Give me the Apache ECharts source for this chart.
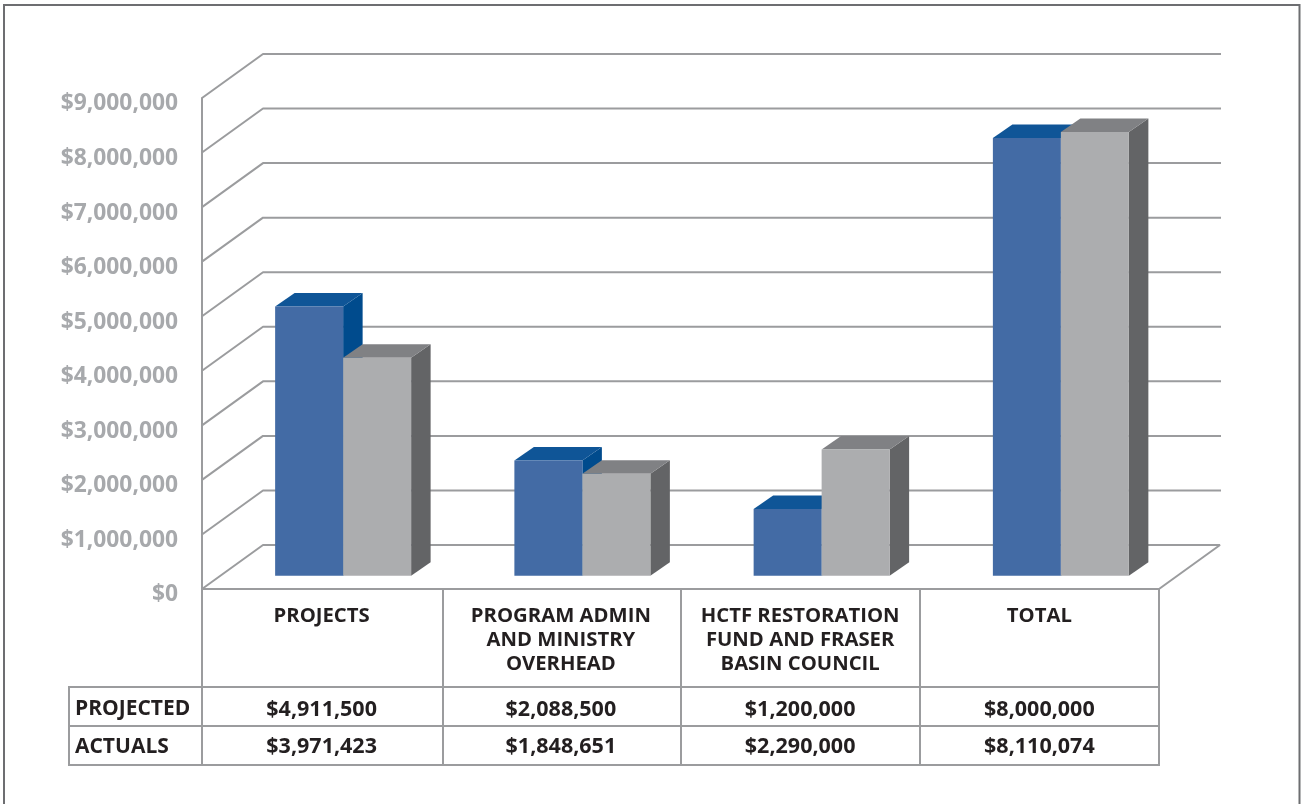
<!DOCTYPE html>
<html>
<head>
<meta charset="utf-8">
<style>html,body{margin:0;padding:0;background:#fff}#chart{width:1301px;height:804px}</style>
<script src="https://cdn.jsdelivr.net/npm/echarts@6/dist/echarts.min.js"></script>
</head>
<body>
<div id="chart"></div>
<script>
// Budget figures by program area
const categories = ['PROJECTS', 'PROGRAM ADMIN\nAND MINISTRY\nOVERHEAD', 'HCTF RESTORATION\nFUND AND FRASER\nBASIN COUNCIL', 'TOTAL'];
const projected = [4911500, 2088500, 1200000, 8000000];
const actuals = [3971423, 1848651, 2290000, 8110074];
const yTicks = [0, 1000000, 2000000, 3000000, 4000000, 5000000, 6000000, 7000000, 8000000, 9000000];
const rowNames = ['PROJECTED', 'ACTUALS'];

const FONT = '"Open Sans", "Noto Sans", sans-serif';
const LINE = '#9b9c9e';
const INK = '#231f20';
const money = v => '$' + v.toLocaleString('en-US');

// Oblique projection: how far the wall recedes, and where the bars stand within it
const WALL_DX = 61, WALL_DY = -44;
const BAR_DX = 19.5, BAR_DY = -13.5;
const BAR_SHIFT_X = 21.5, BASE_SHIFT_Y = -13.3, TOP_SHIFT_Y = -14.5;
const BAR_W_RATIO = 0.2842;

function poly(points, fill) {
  return { type: 'polygon', shape: { points }, style: { fill } };
}

// One extruded bar: front, top and side faces
function barRenderer(side, colors) {
  return function (params, api) {
    const i = api.value(0);
    const top = api.coord([i, api.value(1)]);
    const base = api.coord([i, 0]);
    const w = api.size([1, 0])[0] * BAR_W_RATIO;
    const x0 = top[0] + BAR_SHIFT_X + (side === 0 ? -w : 0);
    const x1 = x0 + w;
    const y0 = top[1] + TOP_SHIFT_Y;
    const y1 = base[1] + BASE_SHIFT_Y;
    return {
      type: 'group',
      children: [
        poly([[x1, y0], [x1 + BAR_DX, y0 + BAR_DY], [x1 + BAR_DX, y1 + BAR_DY], [x1, y1]], colors.side),
        poly([[x0, y0], [x0 + BAR_DX, y0 + BAR_DY], [x1 + BAR_DX, y0 + BAR_DY], [x1, y0]], colors.top),
        poly([[x0, y0], [x1, y0], [x1, y1], [x0, y1]], colors.front)
      ]
    };
  };
}

// Wall and floor rules receding from each tick on the value axis
function wallRenderer(params, api) {
  const p = api.coord([0, api.value(0)]);
  const rect = params.coordSys;
  const xl = rect.x, xr = rect.x + rect.width;
  const y = p[1];
  const isFloor = api.value(0) === 0;
  const pts = [[xl, y], [xl + WALL_DX, y + WALL_DY], [xr + WALL_DX + (isFloor ? 0 : 1), y + WALL_DY]];
  if (isFloor) pts.push([xr, y]);
  return {
    type: 'polyline',
    shape: { points: pts },
    style: { stroke: LINE, lineWidth: 2, fill: null, lineJoin: 'bevel' }
  };
}

// Table rows under the category labels
function rowRenderer(rowY) {
  return function (params, api) {
    const p = api.coord([api.value(0), 0]);
    return {
      type: 'text',
      style: {
        x: p[0], y: rowY, text: money(api.value(1)),
        font: 'bold 21.5px ' + FONT, fill: INK,
        textAlign: 'center', textVerticalAlign: 'middle'
      }
    };
  };
}

function hLine(x1, x2, y) { return { type: 'line', shape: { x1, y1: y, x2, y2: y }, style: { stroke: LINE, lineWidth: 2 }, z: 5 }; }
function vLine(x, y1, y2) { return { type: 'line', shape: { x1: x, y1, x2: x, y2 }, style: { stroke: LINE, lineWidth: 2 }, z: 5 }; }
function rowLabel(text, y) {
  return { type: 'text', x: 75, y, z: 6, style: { text, font: 'bold 21px ' + FONT, fill: INK, verticalAlign: 'middle' } };
}

const chart = echarts.init(document.getElementById('chart'), null, { renderer: 'canvas' });
chart.setOption({
  animation: false,
  backgroundColor: '#ffffff',
  grid: { left: 202, right: 142, top: 98, bottom: 215 },
  xAxis: {
    type: 'category',
    data: categories,
    axisLine: { show: true, lineStyle: { color: LINE, width: 2 } },
    axisTick: { show: false },
    axisLabel: {
      interval: 0, margin: 15,
      fontFamily: FONT, fontWeight: 'bold', fontSize: 20.3, lineHeight: 24, color: INK
    }
  },
  yAxis: {
    type: 'value', min: 0, max: 9000000, interval: 1000000,
    axisLine: { show: true, lineStyle: { color: LINE, width: 2 } },
    axisTick: { show: false },
    splitLine: { show: false },
    axisLabel: {
      margin: 24, verticalAlign: 'top', lineHeight: 12,
      fontFamily: FONT, fontWeight: 'bold', fontSize: 22.8, color: '#a7a9ac',
      formatter: money
    }
  },
  series: [
    { type: 'custom', renderItem: wallRenderer, data: yTicks.map(v => [v]), encode: { y: 0 }, z: 1, silent: true },
    { type: 'custom', name: 'Projected', renderItem: barRenderer(0, { front: '#436ba5', top: '#0f5597', side: '#004b8d' }),
      data: projected.map((v, i) => [i, v]), encode: { x: 0, y: 1 }, z: 2 },
    { type: 'custom', name: 'Actuals', renderItem: barRenderer(1, { front: '#acadaf', top: '#808184', side: '#636466' }),
      data: actuals.map((v, i) => [i, v]), encode: { x: 0, y: 1 }, z: 3 },
    { type: 'custom', renderItem: rowRenderer(709.5), data: projected.map((v, i) => [i, v]), encode: { x: 0, y: 1 }, z: 6, silent: true },
    { type: 'custom', renderItem: rowRenderer(747), data: actuals.map((v, i) => [i, v]), encode: { x: 0, y: 1 }, z: 6, silent: true }
  ],
  graphic: [
    // Page frame, running off the bottom edge
    { type: 'rect', shape: { x: 4, y: 5, width: 1295.5, height: 820 }, style: { fill: null, stroke: '#6d6e71', lineWidth: 2 }, z: 0 },
    // Table rules
    hLine(69, 1159, 687), hLine(69, 1159, 726), hLine(69, 1159, 765),
    vLine(69, 686, 766), vLine(202, 589, 766), vLine(443, 589, 766),
    vLine(681, 589, 766), vLine(920, 589, 766), vLine(1159, 588, 766),
    rowLabel(rowNames[0], 709.5), rowLabel(rowNames[1], 747)
  ]
});
</script>
</body>
</html>
